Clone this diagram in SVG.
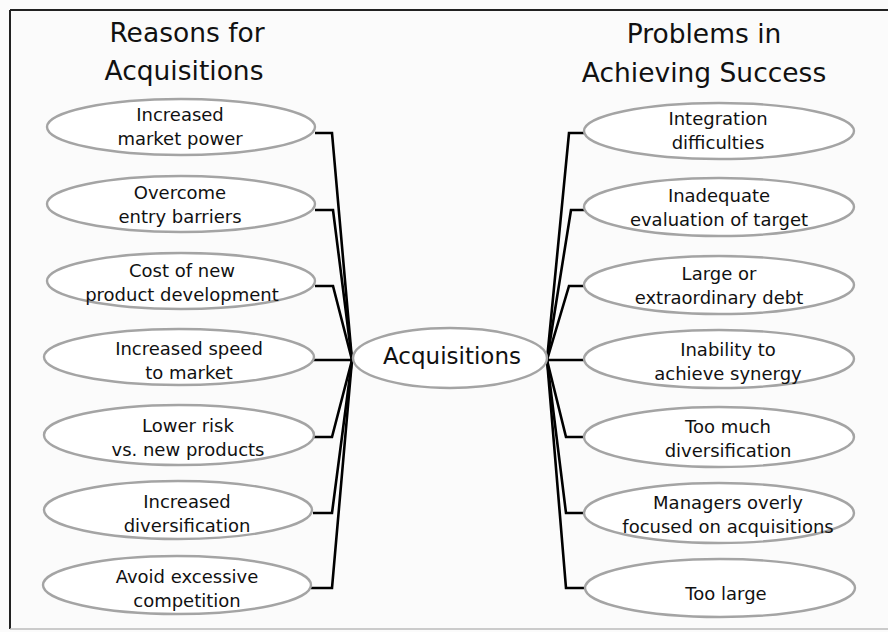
<svg xmlns="http://www.w3.org/2000/svg" width="888" height="632" viewBox="0 0 888 632">
<style>
.node ellipse{fill:#ffffff;stroke:#a4a4a4;stroke-width:2.4}
text{font-family:"DejaVu Sans","Liberation Sans",sans-serif;fill:#111;text-anchor:middle}
.lbl{font-size:18px}
.title{font-size:26.5px}
.hub{font-size:23px}
#connectors path{fill:none;stroke:#000;stroke-width:2.6;stroke-linejoin:miter}
</style>
<rect x="0" y="0" width="888" height="632" fill="#fbfbfb"/>
<g id="frame">
<line x1="10" y1="10" x2="888" y2="10" stroke="#222" stroke-width="2"/>
<line x1="10" y1="10" x2="10" y2="629" stroke="#222" stroke-width="2"/>
<line x1="10" y1="629" x2="888" y2="629" stroke="#bbb" stroke-width="1.5"/>
</g>
<g id="titles">
<text class="title" x="187" y="42">Reasons for</text>
<text class="title" x="184" y="80">Acquisitions</text>
<text class="title" x="704" y="43">Problems in</text>
<text class="title" x="704" y="82">Achieving Success</text>
</g>
<g id="connectors">
<path d="M315,133 H332 L352,360"/>
<path d="M315,210 H333 L352,360"/>
<path d="M315,286 H333 L352,360"/>
<path d="M313,360 H352"/>
<path d="M313,437 H332 L352,360"/>
<path d="M313,513 H332 L352,360"/>
<path d="M311,588 H332 L352,360"/>
<path d="M586,133 H569 L547,360"/>
<path d="M586,210 H571 L547,360"/>
<path d="M586,286 H569 L547,360"/>
<path d="M547,360 H587"/>
<path d="M586,437 H566 L547,360"/>
<path d="M586,513 H566 L547,360"/>
<path d="M586,588 H566 L547,360"/>
</g>
<g id="hub" class="node">
<ellipse cx="450" cy="358" rx="97" ry="30"/>
<text class="hub" x="452" y="364">Acquisitions</text>
</g>
<g id="r1" class="node"><ellipse cx="181" cy="127" rx="134" ry="28"/><text class="lbl" x="180" y="121">Increased</text><text class="lbl" x="180" y="145">market power</text></g>
<g id="r2" class="node"><ellipse cx="181" cy="204" rx="134" ry="28"/><text class="lbl" x="180" y="199">Overcome</text><text class="lbl" x="180" y="223">entry barriers</text></g>
<g id="r3" class="node"><ellipse cx="181" cy="281" rx="134" ry="28"/><text class="lbl" x="182" y="277">Cost of new</text><text class="lbl" x="182" y="301">product development</text></g>
<g id="r4" class="node"><ellipse cx="179" cy="357" rx="135" ry="28"/><text class="lbl" x="189" y="355">Increased speed</text><text class="lbl" x="189" y="379">to market</text></g>
<g id="r5" class="node"><ellipse cx="179" cy="435" rx="135" ry="30"/><text class="lbl" x="188" y="432">Lower risk</text><text class="lbl" x="188" y="456">vs. new products</text></g>
<g id="r6" class="node"><ellipse cx="178" cy="510" rx="134" ry="29"/><text class="lbl" x="187" y="508">Increased</text><text class="lbl" x="187" y="532">diversification</text></g>
<g id="r7" class="node"><ellipse cx="177" cy="585" rx="134" ry="29"/><text class="lbl" x="187" y="583">Avoid excessive</text><text class="lbl" x="187" y="607">competition</text></g>
<g id="p1" class="node"><ellipse cx="719" cy="131" rx="135" ry="28"/><text class="lbl" x="718" y="125">Integration</text><text class="lbl" x="718" y="149">difficulties</text></g>
<g id="p2" class="node"><ellipse cx="719" cy="207" rx="135" ry="29"/><text class="lbl" x="719" y="202">Inadequate</text><text class="lbl" x="719" y="226">evaluation of target</text></g>
<g id="p3" class="node"><ellipse cx="719" cy="285" rx="135" ry="29"/><text class="lbl" x="719" y="280">Large or</text><text class="lbl" x="719" y="304">extraordinary debt</text></g>
<g id="p4" class="node"><ellipse cx="719" cy="359" rx="135" ry="29"/><text class="lbl" x="728" y="356">Inability to</text><text class="lbl" x="728" y="380">achieve synergy</text></g>
<g id="p5" class="node"><ellipse cx="719" cy="437" rx="135" ry="30"/><text class="lbl" x="728" y="433">Too much</text><text class="lbl" x="728" y="457">diversification</text></g>
<g id="p6" class="node"><ellipse cx="719" cy="513" rx="135" ry="30"/><text class="lbl" x="728" y="509">Managers overly</text><text class="lbl" x="728" y="533">focused on acquisitions</text></g>
<g id="p7" class="node"><ellipse cx="720" cy="588" rx="135" ry="29"/><text class="lbl" x="726" y="600">Too large</text></g>
</svg>
